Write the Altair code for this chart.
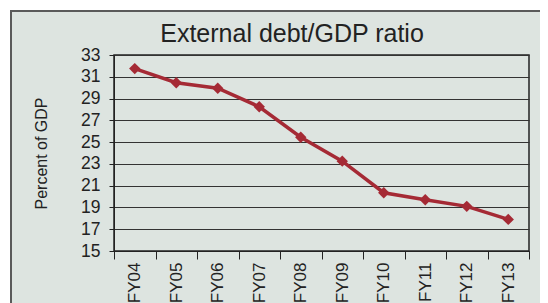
import altair as alt
import pandas as pd

# ---- data ----
years = ["FY04", "FY05", "FY06", "FY07", "FY08", "FY09", "FY10", "FY11", "FY12", "FY13"]
ratios = [31.75, 30.45, 29.95, 28.25, 25.45, 23.25, 20.35, 19.7, 19.1, 17.9]
y_ticks = [15, 17, 19, 21, 23, 25, 27, 29, 31, 33]
title_text = ["External debt/GDP ratio"]
y_title = "Percent of GDP"

df = pd.DataFrame({"year": years, "ratio": ratios})

BG = "#dde4e0"
RED = "#a52a35"
INK = "#222222"
FONT = "Liberation Sans"

W, H = 415, 196

x_enc = alt.X(
    "year:N", sort=years, title=None,
    scale=alt.Scale(type="band", paddingInner=0, paddingOuter=0),
    axis=alt.Axis(labelAngle=270, labelFontSize=17, labelPadding=3, tickSize=8,
                  tickBand="extent", domainColor=INK, tickColor=INK, labelColor=INK,
                  grid=False, labelFont=FONT, labelOverlap=False),
)
y_enc = alt.Y(
    "ratio:Q",
    scale=alt.Scale(domain=[15, 33], nice=False, zero=False),
    axis=alt.Axis(values=y_ticks, title=y_title, titleFontSize=16, titleFontWeight="normal",
                  titleColor=INK, titleFont=FONT, titleX=-73, titleY=H / 2, titleAngle=270,
                  titleAlign="center", titleBaseline="middle",
                  labelFontSize=17.5, labelPadding=9, labelColor=INK, labelFont=FONT,
                  labelOverlap=False, labelFlush=False,
                  tickSize=5, tickColor=INK, domainColor=INK,
                  grid=True, gridColor="#333333", gridOpacity=1, gridWidth=1),
)

frame_df = pd.DataFrame({"k": [0]})
frame = alt.Chart(frame_df).mark_rect(fill=None, stroke="#5a5a5a", strokeWidth=2).encode(
    x=alt.value(-103), x2=alt.value(450), y=alt.value(-44), y2=alt.value(265)
)
outer = alt.Chart(frame_df).mark_rect(fill=None, stroke="white", strokeWidth=4).encode(
    x=alt.value(-106), x2=alt.value(460), y=alt.value(-47), y2=alt.value(275)
)
title = alt.Chart(pd.DataFrame({"t": title_text})).mark_text(
    fontSize=25, font=FONT, color=INK, align="center", baseline="alphabetic"
).encode(text="t:N", x=alt.value(178), y=alt.value(-13))

line = alt.Chart(df).mark_line(color=RED, strokeWidth=3.5).encode(x=x_enc, y=y_enc)
pts = alt.Chart(df).mark_point(shape="diamond", filled=True, color=RED, size=130, opacity=1).encode(
    x=x_enc, y=y_enc
)

chart = alt.layer(outer, frame, title, line, pts).properties(
    width=W, height=H,
    autosize=alt.AutoSizeParams(type="none"),
    padding={"left": 106, "top": 47, "right": 11, "bottom": 52},
).configure(
    background=BG, font=FONT,
).configure_view(
    stroke="#222222", strokeWidth=1.5,
)

chart.save("out.html", embed_options={"renderer": "svg", "actions": False})
